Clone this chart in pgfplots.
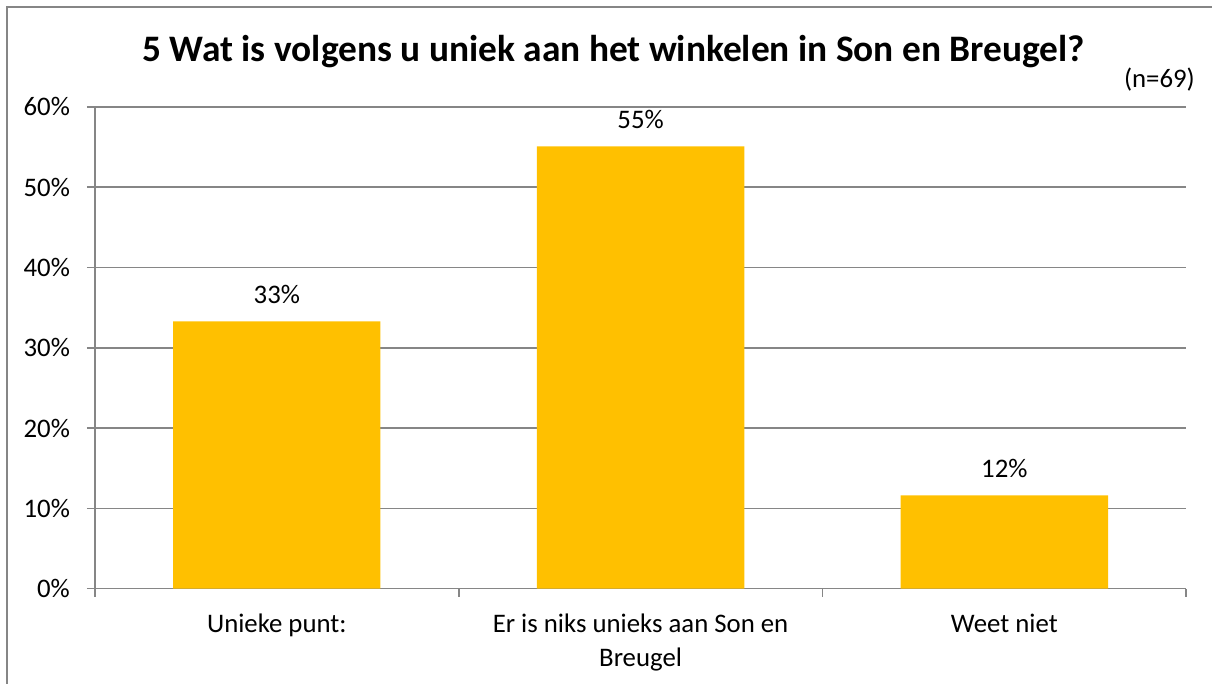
\documentclass[border=0pt]{standalone}
\usepackage{fontspec}
\setmainfont{Carlito}
\usepackage{pgfplots}
\pgfplotsset{compat=1.18}
\definecolor{bargold}{HTML}{FFC000}
\definecolor{linegray}{HTML}{868686}

\begin{document}
\begin{tikzpicture}
% page 1213x684 px, 1 px = 0.5pt
\path (0,0) rectangle (606.5pt,-342pt);
\draw[linegray, line width=0.8pt] (3.5pt,-342pt) -- (3.5pt,-3.5pt) -- (606.5pt,-3.5pt);
\node[font=\fontsize{18.7}{22}\selectfont\bfseries] at (307pt,-26pt)
  {5 Wat is volgens u uniek aan het winkelen in Son en Breugel?};
\node[anchor=east, font=\fontsize{13.4}{16}\selectfont, inner sep=0pt] at (598pt,-40pt) {(n=69)};
\begin{axis}[
  at={(47.5pt,-294.5pt)}, anchor=south west,
  scale only axis, width=546pt, height=241pt,
  xmin=-0.5, xmax=2.5, ymin=0, ymax=60,
  ybar, bar width=0.57,
  axis x line*=bottom, axis y line*=left,
  axis line style={linegray, line width=0.8pt, -},
  ytick={0,10,...,60},
  yticklabel={\pgfmathprintnumber{\tick}\%},
  /pgf/number format/assume math mode=true,
  ymajorgrids, grid style={linegray, line width=0.8pt},
  tick align=outside, major tick length=4pt,
  tick style={linegray, line width=0.8pt},
  xtick={-0.5,0.5,1.5,2.5}, xticklabels={},
  extra x ticks={0,1,2},
  extra x tick labels={Unieke punt:, {Er is niks unieks aan Son en\\Breugel}, Weet niet},
  extra x tick style={major tick length=0pt, grid=none,
    x tick label style={align=center, yshift=-9pt}},
  y tick label style={xshift=-5pt},
  ticklabel style={font=\fontsize{13.4}{17}\selectfont, text=black},
  nodes near coords={\pgfmathprintnumber[fixed,precision=0]{\pgfplotspointmeta}\%},
  point meta=y,
  every node near coord/.append style={font=\fontsize{13.4}{16}\selectfont, text=black, yshift=5.3pt},
  clip=false,
]
\addplot[fill=bargold, draw=none] coordinates {(0,33.3) (1,55.1) (2,11.6)};
\end{axis}
\end{tikzpicture}
\end{document}
